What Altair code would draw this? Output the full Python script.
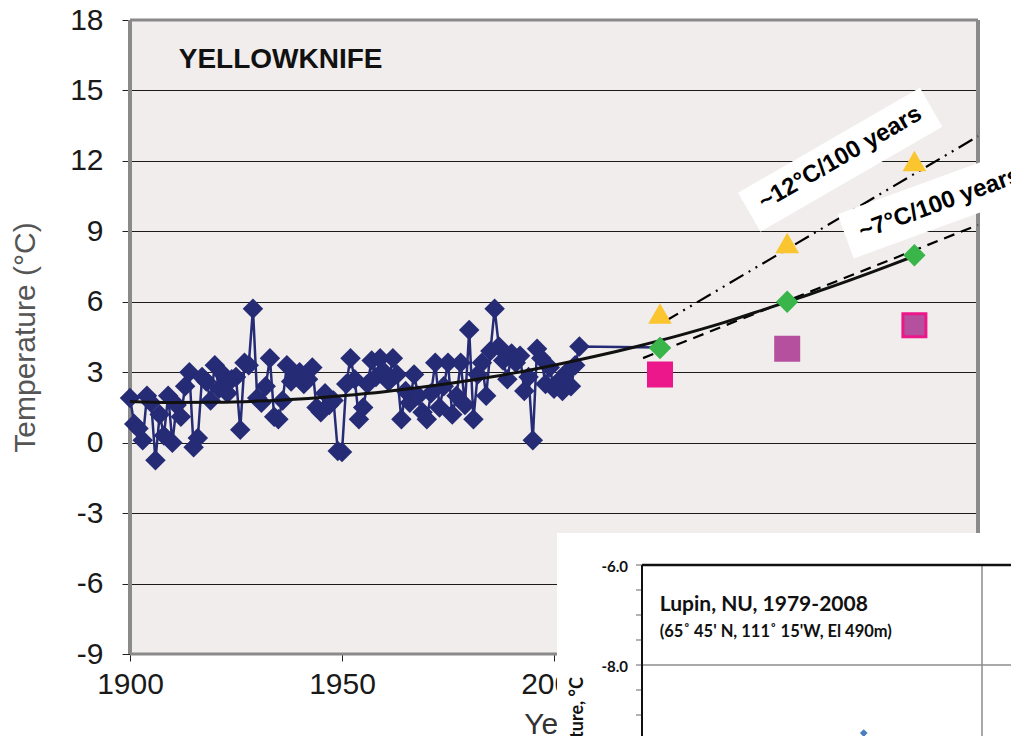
import altair as alt
import pandas as pd

# ---------------- main chart data (Yellowknife) ----------------
obs_years = list(range(1900, 2007)) + [2025]
obs_temp = [
    1.9, 0.8, 0.6, 0.1, 2.0, 1.7, -0.75, 1.2, 0.3, 2.0,      # 1900-1909
    0.0, 1.6, 1.1, 2.4, 3.0, -0.2, 0.2, 2.8, 2.6, 1.8,       # 1910-1919
    3.3, 2.3, 2.9, 2.1, 2.7, 2.8, 0.55, 3.4, 3.3, 5.7,       # 1920-1929
    1.9, 1.7, 2.4, 3.6, 1.1, 1.0, 1.8, 3.3, 2.6, 2.9,        # 1930-1939
    3.0, 2.5, 2.7, 3.2, 1.5, 1.3, 2.1, 1.6, 1.8, -0.35,      # 1940-1949
    -0.4, 2.5, 3.6, 2.7, 1.0, 1.5, 2.5, 3.5, 2.8, 3.6,       # 1950-1959
    3.0, 2.6, 3.6, 2.9, 1.0, 2.2, 1.7, 2.9, 2.0, 1.3,        # 1960-1969
    1.0, 2.1, 3.4, 1.5, 2.4, 3.4, 1.2, 2.0, 3.4, 1.6,        # 1970-1979
    4.8, 1.0, 2.9, 3.4, 2.0, 3.9, 5.7, 4.1, 3.5, 2.7,        # 1980-1989
    3.8, 3.4, 3.7, 2.2, 2.8, 0.1, 4.0, 3.6, 2.5, 3.2,        # 1990-1999
    2.3, 2.6, 2.2, 3.0, 2.4, 3.3, 4.1,                       # 2000-2006
    4.05,                                                    # 2025
]

trend_years = [1900, 1910, 1920, 1930, 1940, 1950, 1960, 1970, 1980, 1990,
               2000, 2010, 2020, 2030, 2040, 2050, 2060, 2070, 2080, 2085]
trend_temp = [1.75, 1.71, 1.72, 1.77, 1.86, 2.0, 2.17, 2.39, 2.65, 2.95,
              3.3, 3.69, 4.12, 4.59, 5.11, 5.7, 6.3, 6.93, 7.6, 7.95]

proj_years = [2025, 2055, 2085]
proj_green = [4.03, 6.0, 7.98]
proj_yellow = [5.5, 8.5, 12.0]
proj_square = [2.9, 4.0, 5.0]
square_fill = ["#EC178B", "#B5509F", "#B5509F"]
square_stroke = ["#EC178B", "#B5509F", "#EC178B"]

line12_years = [2026, 2100]
line12_temp = [5.15, 13.05]
line7_years = [2021, 2100]
line7_temp = [3.6, 9.27]

ann_text = ["~12°C/100 years", "~7°C/100 years"]
ann_years = [2067.5, 2091.0]
ann_temp = [12.12, 10.18]
box_years = [2067.5, 2091.5]
box_temp = [12.05, 10.28]

y_ticks = [-9, -6, -3, 0, 3, 6, 9, 12, 15, 18]
x_ticks = [1900, 1950, 2000, 2050, 2100]
title_text = "YELLOWKNIFE"

# ---------------- inset data (Lupin) ----------------
inset_title = "Lupin, NU, 1979-2008"
inset_sub = "(65˚ 45' N, 111˚ 15'W, El 490m)"
inset_ytitle = "Temperature, °C"
inset_years = [1994, 1994.3]
inset_temp = [-9.36, -13.0]
inset_ticks = [-10.5, -10, -9.5, -9, -8.5, -8, -7.5, -7, -6.5, -6]
inset_labels = [-6.0, -8.0]

FONT = "Liberation Sans"
IFONT = "Lato"

xs = alt.Scale(domain=[1900, 2100], nice=False, zero=False)
ys = alt.Scale(domain=[-9, 18], nice=False, zero=False)
xax = alt.Axis(values=x_ticks, labelExpr="'' + datum.value", labelFontSize=30, labelFont=FONT,
               labelColor="#1a1a1a", tickColor="#222", tickSize=7, domain=False,
               grid=False, labelPadding=8, title="Year", titleFontSize=30,
               titleFont=FONT, titleFontWeight="normal", titleColor="#333",
               titlePadding=10, labelFlush=False)
yax = alt.Axis(values=y_ticks, labelExpr="'' + datum.value", labelFontSize=30, labelFont=FONT,
               labelColor="#1a1a1a", tickColor="#222", tickSize=8, domain=False, grid=True,
               gridColor="#1a1a1a", gridWidth=1, labelPadding=19,
               title="Temperature (°C)", titleFontSize=30, titleFont=FONT,
               titleFontWeight="normal", titleColor="#555", titlePadding=29)


def X(f="year"):
    return alt.X(f"{f}:Q", scale=xs, axis=xax)


def Y(f="temp"):
    return alt.Y(f"{f}:Q", scale=ys, axis=yax)


obs_df = pd.DataFrame({"year": obs_years, "temp": obs_temp})
trend_df = pd.DataFrame({"year": trend_years, "temp": trend_temp})
proj_df = pd.DataFrame({"year": proj_years, "green": proj_green, "yellow": proj_yellow,
                        "square": proj_square, "fill": square_fill, "stroke": square_stroke})
l12_df = pd.DataFrame({"year": line12_years, "temp": line12_temp})
l7_df = pd.DataFrame({"year": line7_years, "temp": line7_temp})

border_v = pd.DataFrame({"year": [1900, 2100], "temp": [-9, -9], "temp2": [18, 18]})
border_h = pd.DataFrame({"year": [1900, 1900], "year2": [2100, 2100], "temp": [-9, 18]})

grid_layer = alt.Chart(border_v).mark_rule(strokeWidth=0).encode(x=X(), y=Y())
bv = alt.Chart(border_v).mark_rule(color="#8a8a8a", strokeWidth=4).encode(
    x=X(), y=Y(), y2="temp2:Q")
bh = alt.Chart(border_h).mark_rule(color="#8a8a8a", strokeWidth=3).encode(
    x=X(), x2="year2:Q", y=Y())

title_layer = alt.Chart(pd.DataFrame({"year": [1911.5], "temp": [16.3], "t": [title_text]})).mark_text(
    font=FONT, fontWeight="bold", fontSize=28, align="left", baseline="middle", color="#111"
).encode(x=X(), y=Y(), text="t:N")

l12 = alt.Chart(l12_df).mark_line(color="black", strokeWidth=2.2,
                                  strokeDash=[16, 6, 2, 6, 2, 6]).encode(x=X(), y=Y())
l7 = alt.Chart(l7_df).mark_line(color="black", strokeWidth=2.2,
                                strokeDash=[11, 7]).encode(x=X(), y=Y())

obs_line = alt.Chart(obs_df).mark_line(color="#262B76", strokeWidth=2.5).encode(x=X(), y=Y())
obs_pts = alt.Chart(obs_df).mark_point(shape="diamond", filled=True, opacity=1,
                                       color="#262B76", size=420).encode(x=X(), y=Y())
trend = alt.Chart(trend_df).mark_line(color="#111", strokeWidth=3,
                                      interpolate="monotone").encode(x=X(), y=Y())

yellow = alt.Chart(proj_df).mark_point(shape="triangle-up", filled=True, opacity=1,
                                       color="#FBC530", size=560).encode(x=X(), y=Y("yellow"))
green = alt.Chart(proj_df).mark_point(shape="diamond", filled=True, opacity=1,
                                      color="#3AB54A", size=500).encode(x=X(), y=Y("green"))
squares = alt.Chart(proj_df).mark_point(shape="square", filled=True, opacity=1,
                                        size=529, strokeWidth=3).encode(
    x=X(), y=Y("square"),
    fill=alt.Fill("fill:N", scale=None),
    stroke=alt.Stroke("stroke:N", scale=None))

box1 = alt.Chart(pd.DataFrame({"year": [box_years[0]], "temp": [box_temp[0]]})).mark_point(
    shape="M-1,-0.214L1,-0.214L1,0.214L-1,0.214Z", size=44100, filled=True, opacity=1,
    color="white", angle=330).encode(x=X(), y=Y())
box2 = alt.Chart(pd.DataFrame({"year": [box_years[1]], "temp": [box_temp[1]]})).mark_point(
    shape="M-1,-0.23L1,-0.23L1,0.23L-1,0.23Z", size=42025, filled=True, opacity=1,
    color="white", angle=340).encode(x=X(), y=Y())
txt1 = alt.Chart(pd.DataFrame({"year": [ann_years[0]], "temp": [ann_temp[0]], "t": [ann_text[0]]})).mark_text(
    font=FONT, fontWeight="bold", fontSize=24, angle=330, align="center", baseline="middle",
    color="black").encode(x=X(), y=Y(), text="t:N")
txt2 = alt.Chart(pd.DataFrame({"year": [ann_years[1]], "temp": [ann_temp[1]], "t": [ann_text[1]]})).mark_text(
    font=FONT, fontWeight="bold", fontSize=24, angle=340, align="center", baseline="middle",
    color="black").encode(x=X(), y=Y(), text="t:N")

main = alt.layer(grid_layer, bv, bh, title_layer, l12, l7, obs_line, obs_pts, trend,
                 yellow, green, squares, box1, box2, txt1, txt2)

# ---------------- inset ----------------
ixs = alt.Scale(domain=[1979, 2002], range=[512, 852], nice=False, zero=False)
iys = alt.Scale(domain=[-10, -6], range=[745, 545], nice=False, zero=False)


def IX(f="year"):
    return alt.X(f"{f}:Q", scale=ixs, axis=None)


def IY(f="temp"):
    return alt.Y(f"{f}:Q", scale=iys, axis=None)


inset_bg = alt.Chart(pd.DataFrame({"a": [0]})).mark_rect(color="white").encode(
    x=alt.value(427), x2=alt.value(900), y=alt.value(513), y2=alt.value(740))

igrid_h = alt.Chart(pd.DataFrame({"year": [1979], "year2": [2015], "temp": [-8]})).mark_rule(
    color="#8c8c8c", strokeWidth=1.5).encode(x=IX(), x2="year2:Q", y=IY())
iframe_top = alt.Chart(pd.DataFrame({"year": [1979], "year2": [2015], "temp": [-6]})).mark_rule(
    color="#111", strokeWidth=2.5).encode(x=IX(), x2="year2:Q", y=IY())
igrid_v = alt.Chart(pd.DataFrame({"year": [2002], "temp": [-6], "temp2": [-11]})).mark_rule(
    color="#8c8c8c", strokeWidth=1.5).encode(x=IX(), y=IY(), y2="temp2:Q")
iframe_left = alt.Chart(pd.DataFrame({"year": [1979], "temp": [-6], "temp2": [-11]})).mark_rule(
    color="#111", strokeWidth=2).encode(x=IX(), y=IY(), y2="temp2:Q")
iticks = alt.Chart(pd.DataFrame({"temp": inset_ticks, "year": [1979] * len(inset_ticks)})).mark_tick(
    color="#222", thickness=1, size=6, orient="horizontal", xOffset=-3).encode(x=IX(), y=IY())
ilabels = alt.Chart(pd.DataFrame({"temp": inset_labels, "year": [1979] * len(inset_labels),
                                  "t": [f"{v:.1f}" for v in inset_labels]})).mark_text(
    font=IFONT, fontWeight="bold", fontSize=15, align="right", baseline="middle",
    dx=-14, dy=2, color="#111").encode(x=IX(), y=IY(), text="t:N")

iline_df = pd.DataFrame({"year": inset_years, "temp": inset_temp})
iline = alt.Chart(iline_df).mark_line(color="#4A7EBF", strokeWidth=2).encode(x=IX(), y=IY())
ipts = alt.Chart(iline_df.iloc[[0]]).mark_point(shape="diamond", filled=True, opacity=1,
                                              color="#4A7EBF", size=60).encode(x=IX(), y=IY())

itext = pd.DataFrame({"year": [1980.2], "temp": [-6.8], "t": [inset_title]})
isub = pd.DataFrame({"year": [1980.2], "temp": [-7.34], "t": [inset_sub]})
iyt = pd.DataFrame({"year": [1974.67], "temp": [-8.24], "t": [inset_ytitle]})
ititle = alt.Chart(itext).mark_text(font=IFONT, fontWeight="bold", fontSize=21, align="left",
                                    baseline="middle", color="#111").encode(x=IX(), y=IY(), text="t:N")
isubt = alt.Chart(isub).mark_text(font=IFONT, fontWeight="bold", fontSize=16.5, align="left",
                                  baseline="middle", color="#111").encode(x=IX(), y=IY(), text="t:N")
iytitle = alt.Chart(iyt).mark_text(font=IFONT, fontWeight="bold", fontSize=18, align="right",
                                   baseline="middle", angle=270, color="#111").encode(
    x=IX(), y=IY(), text="t:N")

inset = alt.layer(inset_bg, igrid_h, igrid_v, iframe_top, iframe_left, iticks, ilabels,
                  iline, ipts, ititle, isubt, iytitle)

chart = alt.layer(main, inset).resolve_scale(x="independent", y="independent").properties(
    width=848, height=634,
    padding={"left": 122, "top": 12, "right": 33, "bottom": 82},
    autosize=alt.AutoSizeParams(type="none"),
    background="white",
).configure_view(fill="#F0EDEC", strokeWidth=0)

chart.save("out.html", embed_options={"renderer": "svg", "actions": False})
